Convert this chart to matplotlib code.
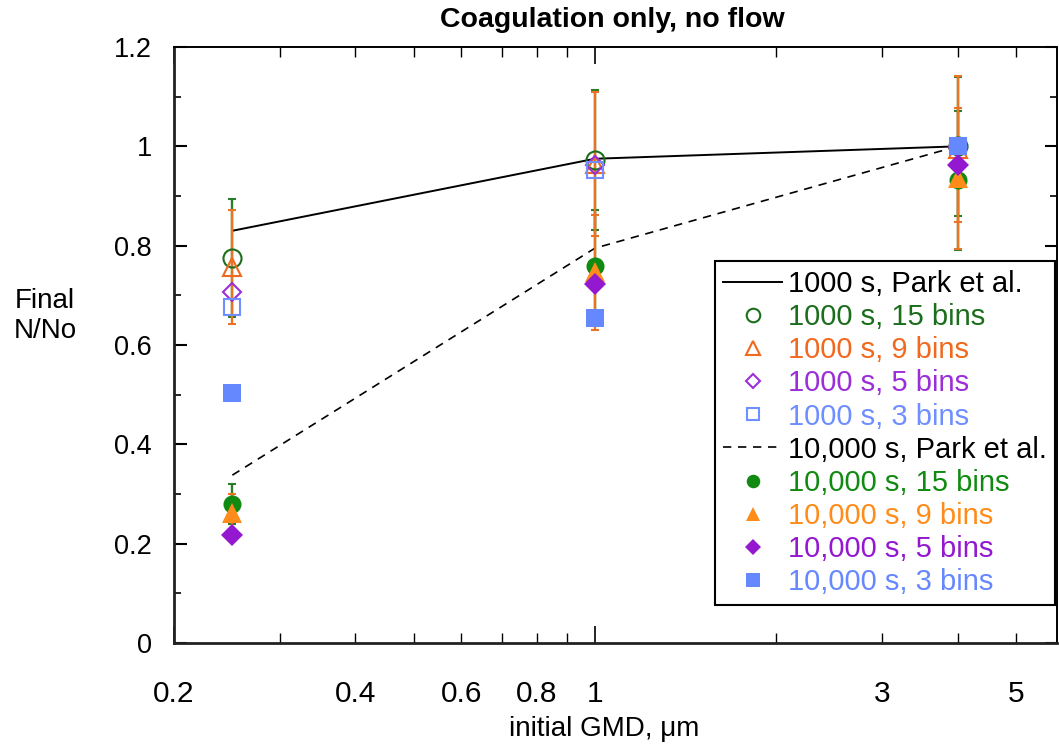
import matplotlib
matplotlib.use("Agg")
import matplotlib.pyplot as plt
from matplotlib import font_manager
from matplotlib.ticker import FixedLocator, FixedFormatter, NullFormatter

available = {f.name for f in font_manager.fontManager.ttflist}
base_font = "Liberation Sans" if "Liberation Sans" in available else "DejaVu Sans"
plt.rcParams["font.family"] = [base_font, "DejaVu Sans"]

# initial GMD (um)
x_gmd = [0.25, 1.0, 4.0]

# Park et al. reference curves
park_1000 = [0.83, 0.975, 1.0]
park_10000 = [0.338, 0.795, 1.0]

# model results, final N/No
n_1000_15 = [0.775, 0.972, 1.0]
n_1000_9 = [0.757, 0.965, 0.995]
n_1000_5 = [0.707, 0.962, 0.998]
n_1000_3 = [0.677, 0.952, 1.0]
n_10000_15 = [0.280, 0.760, 0.932]
n_10000_9 = [0.262, 0.746, 0.936]
n_10000_5 = [0.217, 0.723, 0.962]
n_10000_3 = [0.503, 0.655, 1.0]

# error bars (15 and 9 bins only)
err_1000_15 = [0.119, 0.141, 0.14]
err_1000_9 = [0.115, 0.145, 0.147]
err_10000_15 = [0.040, 0.112, 0.14]
err_10000_9 = [0.037, 0.115, 0.142]

green_dark = "#1b6e1b"
green = "#108a10"
orange_dark = "#f0691e"
orange = "#ff8c1a"
purple = "#9a2ed8"
purple_fill = "#9318cf"
blue = "#6f8eff"
blue_fill = "#6688ff"

fig = plt.figure(figsize=(10.59, 7.48), dpi=100)
ax = fig.add_axes([174 / 1059, 1 - 643 / 748, 883 / 1059, 596 / 748])

ax.plot(x_gmd, park_1000, color="black", linewidth=1.4, label="1000 s, Park et al.", zorder=2)

# error bars below markers
eb_kw = dict(fmt="none", capsize=3.2, elinewidth=1.7, capthick=1.5, zorder=3)
ax.errorbar(x_gmd, n_1000_15, yerr=err_1000_15, ecolor="#2a7d2a", **eb_kw)
ax.errorbar(x_gmd, n_10000_15, yerr=err_10000_15, ecolor="#2a7d2a", **eb_kw)
ax.errorbar(x_gmd, n_1000_9, yerr=err_1000_9, ecolor="#ea7425", **eb_kw)
ax.errorbar(x_gmd, n_10000_9, yerr=err_10000_9, ecolor="#ea7425", **eb_kw)

open_kw = dict(linestyle="none", markerfacecolor="none", markeredgewidth=1.5, zorder=4)
ax.plot(x_gmd, n_1000_15, marker="o", markersize=13, color=green_dark, label="1000 s, 15 bins", **open_kw)
ax.plot(x_gmd, n_1000_9, marker="^", markersize=13, color=orange_dark, label="1000 s, 9 bins", **open_kw)
ax.plot(x_gmd, n_1000_5, marker="D", markersize=9.5, color=purple, label="1000 s, 5 bins", **open_kw)
ax.plot(x_gmd, n_1000_3, marker="s", markersize=12, color=blue, label="1000 s, 3 bins", **open_kw)

ax.plot(x_gmd, park_10000, color="black", linewidth=1.2, linestyle=(0, (5, 4)),
        label="10,000 s, Park et al.", zorder=2)

fill_kw = dict(linestyle="none", markeredgewidth=0, zorder=5)
ax.plot(x_gmd, n_10000_15, marker="o", markersize=13, color=green, label="10,000 s, 15 bins", **fill_kw)
ax.plot(x_gmd, n_10000_9, marker="^", markersize=14, color=orange, label="10,000 s, 9 bins", **fill_kw)
ax.plot(x_gmd, n_10000_5, marker="D", markersize=11, color=purple_fill, label="10,000 s, 5 bins", **fill_kw)
ax.plot(x_gmd, n_10000_3, marker="s", markersize=12.5, color=blue_fill, label="10,000 s, 3 bins", **fill_kw)

ax.set_xscale("log")
ax.set_xlim(0.2, 5.85)
ax.set_ylim(0, 1.2)

ax.xaxis.set_major_locator(FixedLocator([0.2, 1]))
ax.xaxis.set_major_formatter(FixedFormatter(["0.2", "1"]))
minor_x = [0.3, 0.4, 0.5, 0.6, 0.7, 0.8, 0.9, 2, 3, 4, 5]
minor_lbl = ["", "0.4", "", "0.6", "", "0.8", "", "", "3", "", "5"]
ax.xaxis.set_minor_locator(FixedLocator(minor_x))
ax.xaxis.set_minor_formatter(FixedFormatter(minor_lbl))

ax.set_yticks([0, 0.2, 0.4, 0.6, 0.8, 1.0, 1.2])
ax.set_yticklabels(["0", "0.2", "0.4", "0.6", "0.8", "1", "1.2"])
ax.yaxis.set_minor_locator(FixedLocator([0.1, 0.3, 0.5, 0.7, 0.9, 1.1]))
ax.yaxis.set_minor_formatter(NullFormatter())

ax.tick_params(axis="both", which="both", direction="in", top=True, right=True, colors="black")
ax.tick_params(axis="y", which="major", length=9, width=1.5, labelsize=19.5, pad=16)
ax.tick_params(axis="y", which="minor", length=5, width=1.2)
ax.tick_params(axis="x", which="major", length=12, width=1.2, labelsize=21.5, pad=27)
ax.tick_params(axis="x", which="minor", length=7, width=1.0, labelsize=21.5, pad=27)

for side in ["left", "bottom"]:
    ax.spines[side].set_linewidth(2.0)
    ax.spines[side].set_color("#222222")
for side in ["top", "right"]:
    ax.spines[side].set_linewidth(1.4)

leg = ax.legend(loc="lower right", bbox_to_anchor=(0.998, 0.064), fontsize=21,
                frameon=True, fancybox=False, edgecolor="black", framealpha=1,
                handlelength=2.0, handletextpad=0.2, labelspacing=0.175,
                borderpad=0.3, borderaxespad=0, markerscale=0.75)
leg.get_frame().set_linewidth(1.5)
text_colors = ["black", green_dark, orange_dark, purple, blue,
               "black", green, orange, purple_fill, blue_fill]
for txt, col in zip(leg.get_texts(), text_colors):
    txt.set_color(col)

fig.text(612 / 1059, 1 - 20 / 748, "Coagulation only, no flow", ha="center", va="center",
         fontsize=20.5, fontweight="bold")
fig.text(604 / 1059, 1 - 729 / 748, "initial GMD, \u03bcm", ha="center", va="center",
         fontsize=20)
fig.text(45 / 1059, 1 - 316 / 748, "Final\nN/No", ha="center", va="center",
         fontsize=20, linespacing=1.15)

fig.savefig("out.png", dpi=100)
